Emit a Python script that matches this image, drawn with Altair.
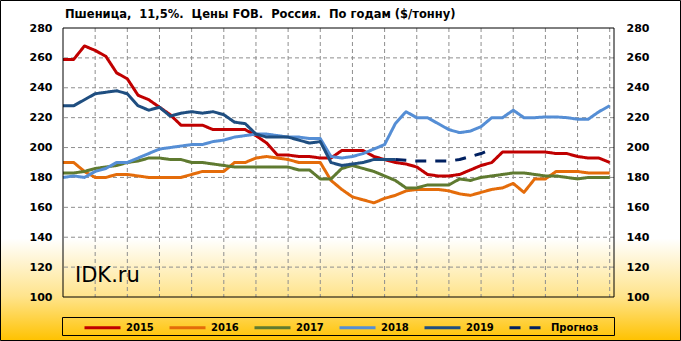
import altair as alt
import pandas as pd

weeks = list(range(1, 53))
s2015 = [259, 259, 268, 265, 261, 250, 246, 235, 232, 227, 222, 215, 215, 215, 212, 212, 212, 212,
         208, 203, 195, 195, 194, 194, 193, 193, 198, 198, 198, 194, 192, 190, 189, 187, 182, 181,
         181, 182, 185, 188, 190, 197, 197, 197, 197, 197, 196, 196, 194, 193, 193, 190]
s2016 = [190, 190, 184, 180, 180, 182, 182, 181, 180, 180, 180, 180, 182, 184, 184, 184, 190, 190,
         193, 194, 193, 192, 190, 190, 190, 178, 172, 167, 165, 163, 166, 168, 171, 172, 172, 172,
         171, 169, 168, 170, 172, 173, 176, 170, 179, 179, 184, 184, 184, 183, 183, 183]
s2017 = [183, 183, 184, 186, 187, 188, 190, 191, 193, 193, 192, 192, 190, 190, 189, 188, 187, 187,
         187, 187, 187, 187, 185, 185, 179, 179, 186, 188, 186, 184, 181, 178, 173, 173, 175, 175,
         175, 179, 178, 180, 181, 182, 183, 183, 182, 181, 181, 180, 179, 180, 180, 180]
s2018 = [180, 181, 180, 184, 186, 190, 190, 193, 196, 199, 200, 201, 202, 202, 204, 205, 207, 208,
         209, 209, 208, 207, 207, 206, 206, 194, 193, 194, 196, 199, 202, 216, 224, 220, 220, 216,
         212, 210, 211, 214, 220, 220, 225, 220, 220, 220.5, 220.5, 220, 219, 219, 224, 228]
s2019 = [228, 228, 232, 236, 237, 238, 236, 228, 225, 227, 221, 223, 224, 223, 224, 222, 217, 216,
         209, 207, 207, 207, 205, 203, 204, 190, 188, 189, 190, 192, 192, 192]
forecast_weeks = [32, 33, 34, 35, 36, 37, 38, 39, 40, 41]
forecast = [192, 191.5, 191, 191, 191, 191, 192, 194, 196, 199]

series_names = ["2015", "2016", "2017", "2018", "2019", "Прогноз"]
series_colors = ["#C00000", "#E46C0A", "#5F7A30", "#558ED5", "#1F4E80", "#002060"]

x_ticks = list(range(1, 53, 3))
y_ticks = list(range(100, 281, 20))
x_grid = list(range(4, 53, 3))
y_grid = list(range(120, 261, 20))

title_text = "Пшеница,\u00a0 11,5%.\u00a0 Цены FOB.\u00a0 Россия.\u00a0 По годам ($/тонну)"

rows = []
for name, vals in zip(series_names[:5], [s2015, s2016, s2017, s2018, s2019]):
    for w, v in zip(weeks, vals):
        rows.append({"week": w, "value": v, "series": name})
for w, v in zip(forecast_weeks, forecast):
    rows.append({"week": w, "value": v, "series": "Прогноз"})
df = pd.DataFrame(rows)

FONT = "DejaVu Sans"
W, H = 551, 269
XDOM = [1, 52.4]
YDOM = [100, 280]
GRID_COLOR = "#8E8E8E"

xscale = alt.Scale(domain=XDOM, nice=False, zero=False)
yscale = alt.Scale(domain=YDOM, nice=False, zero=False)

one = pd.DataFrame({"a": [0]})

bg = alt.Chart(one).mark_rect(
    fill=alt.Gradient(
        gradient="linear",
        stops=[
            alt.GradientStop(color="#FFFFFF", offset=0),
            alt.GradientStop(color="#FFFFFF", offset=0.70),
            alt.GradientStop(color="#FFE48C", offset=0.87),
            alt.GradientStop(color="#FFC200", offset=1),
        ],
        x1=0, x2=0, y1=0, y2=1,
    ),
    stroke="black",
    strokeWidth=1,
).encode(
    x=alt.value(-62.5), x2=alt.value(617.5), y=alt.value(-27.5), y2=alt.value(312.5)
)

vgrid = alt.Chart(pd.DataFrame({"w": x_grid})).mark_rule(
    stroke=GRID_COLOR, strokeWidth=1, strokeDash=[4, 3]
).encode(
    x=alt.X("w:Q", scale=xscale, axis=None),
)

hgrid = alt.Chart(pd.DataFrame({"v": y_grid})).mark_rule(
    stroke=GRID_COLOR, strokeWidth=1, strokeDash=[4, 3]
).encode(
    y=alt.Y("v:Q", scale=yscale,
            axis=alt.Axis(orient="right", values=y_ticks, title=None, ticks=False, domain=False,
                          grid=False, labelPadding=12, labelFont=FONT, labelFontSize=11,
                          labelFontWeight="bold", labelColor="black", zindex=2)),
)

leg = dict(
    title=None, orient="none", legendX=20, legendY=280,
    direction="horizontal", columns=6, columnPadding=9,
    symbolType="stroke", symbolSize=1296, symbolStrokeWidth=3,
    labelFont=FONT, labelFontSize=10, labelFontWeight="bold",
    labelColor="black", labelOffset=4, padding=0, zindex=2,
)

lines = alt.Chart(df).mark_line(strokeWidth=3, strokeCap="butt", strokeJoin="round").encode(
    x=alt.X("week:Q", scale=xscale,
            axis=alt.Axis(values=x_ticks, title=None, ticks=False, domain=False, grid=False,
                          labelPadding=6, labelFont=FONT, labelFontSize=11,
                          labelFontWeight="bold", labelColor="black", labelFlush=False,
                          zindex=2)),
    y=alt.Y("value:Q", scale=yscale,
            axis=alt.Axis(orient="left", values=y_ticks, title=None, ticks=False, domain=False,
                          grid=False, labelPadding=11, labelFont=FONT, labelFontSize=11,
                          labelFontWeight="bold", labelColor="black", zindex=2)),
    color=alt.Color("series:N", scale=alt.Scale(domain=series_names, range=series_colors),
                    legend=alt.Legend(**leg)),
    strokeDash=alt.StrokeDash("series:N",
                              scale=alt.Scale(domain=series_names,
                                              range=[[1, 0], [1, 0], [1, 0], [1, 0], [1, 0], [11, 9]]),
                              legend=alt.Legend(**leg)),
    order="week:Q",
)

frame = alt.Chart(one).mark_rect(filled=False, stroke="black", strokeWidth=1).encode(
    x=alt.value(0), x2=alt.value(W), y=alt.value(0), y2=alt.value(H)
)

legend_box = alt.Chart(one).mark_rect(filled=False, stroke="black", strokeWidth=1).encode(
    x=alt.value(-0.5), x2=alt.value(551.5), y=alt.value(289.5), y2=alt.value(307.5)
)

title = alt.Chart(one).mark_text(
    text=title_text, font=FONT, fontSize=11.5, fontWeight="bold", align="left",
    baseline="middle", color="black"
).encode(x=alt.value(2), y=alt.value(-13))

watermark = alt.Chart(one).mark_text(
    text="IDK.ru", font=FONT, fontSize=21, align="left", baseline="middle", color="black"
).encode(x=alt.value(12), y=alt.value(248))

chart = alt.layer(bg, vgrid, hgrid, lines, frame, legend_box, title, watermark).resolve_scale(
    y="independent"
).properties(
    width=W, height=H,
    autosize=alt.AutoSizeParams(type="none"),
    padding={"left": 63, "top": 28, "right": 67, "bottom": 44},
).configure_view(stroke=None)

chart.save("out.html", embed_options={"renderer": "svg", "actions": False})
